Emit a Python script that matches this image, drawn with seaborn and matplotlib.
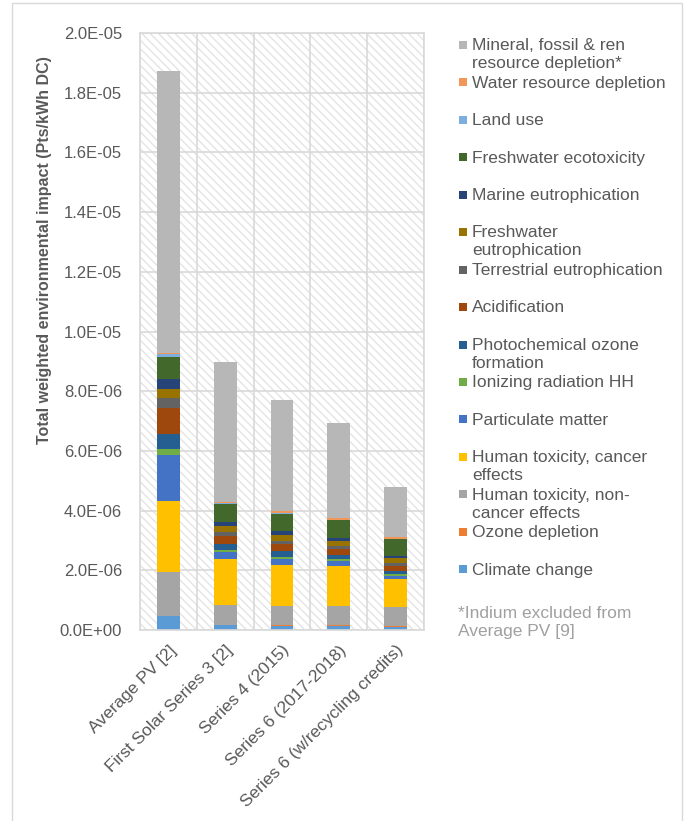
import numpy as np
import pandas as pd
import matplotlib
matplotlib.use("Agg")
import matplotlib.pyplot as plt
import seaborn as sns
from matplotlib.patches import Rectangle
from matplotlib.ticker import FuncFormatter, MultipleLocator, FixedLocator

categories = ["Average PV [2]", "First Solar Series 3 [2]", "Series 4 (2015)",
              "Series 6 (2017-2018)", "Series 6 (w/recycling credits)"]

# values in units of 1E-06 Pts/kWh DC, bottom segment first
climate_change      = [0.47, 0.17, 0.15, 0.15, 0.11]
ozone_depletion     = [0.01, 0.01, 0.01, 0.01, 0.01]
human_tox_noncancer = [1.45, 0.67, 0.66, 0.63, 0.64]
human_tox_cancer    = [2.38, 1.53, 1.37, 1.34, 0.94]
particulate_matter  = [1.55, 0.23, 0.20, 0.18, 0.12]
ionizing_radiation  = [0.20, 0.08, 0.07, 0.08, 0.06]
photochem_ozone     = [0.52, 0.20, 0.17, 0.12, 0.11]
acidification       = [0.85, 0.27, 0.25, 0.19, 0.17]
terrestrial_eutro   = [0.33, 0.12, 0.11, 0.10, 0.08]
freshwater_eutro    = [0.31, 0.22, 0.20, 0.19, 0.16]
marine_eutro        = [0.33, 0.11, 0.11, 0.08, 0.07]
freshwater_ecotox   = [0.76, 0.61, 0.60, 0.60, 0.57]
land_use            = [0.08, 0.02, 0.02, 0.02, 0.02]
water_depletion     = [0.05, 0.05, 0.06, 0.05, 0.05]
mineral_depletion   = [9.43, 4.68, 3.74, 3.18, 1.68]

series_values = [climate_change, ozone_depletion, human_tox_noncancer, human_tox_cancer,
                 particulate_matter, ionizing_radiation, photochem_ozone, acidification,
                 terrestrial_eutro, freshwater_eutro, marine_eutro, freshwater_ecotox,
                 land_use, water_depletion, mineral_depletion]
series_labels = ["Climate change", "Ozone depletion", "Human toxicity, non-\ncancer effects",
                 "Human toxicity, cancer\neffects", "Particulate matter", "Ionizing radiation HH",
                 "Photochemical ozone\nformation", "Acidification", "Terrestrial eutrophication",
                 "Freshwater\neutrophication", "Marine eutrophication", "Freshwater ecotoxicity",
                 "Land use", "Water resource depletion",
                 "Mineral, fossil & ren\nresource depletion*"]
series_colors = ["#5B9BD5", "#ED7D31", "#A5A5A5", "#FFC000", "#4472C4", "#70AD47",
                 "#255E91", "#9E480E", "#636363", "#997300", "#264478", "#43682B",
                 "#7CAFDD", "#F1975A", "#B7B7B7"]
footnote = "*Indium excluded from\nAverage PV [9]"
y_label = "Total weighted environmental impact (Pts/kWh DC)"
scale = 1e-6

sns.set_theme(style="white")
plt.rcParams["font.family"] = ["Liberation Sans", "DejaVu Sans"]
plt.rcParams["hatch.color"] = "#E4E4E4"
plt.rcParams["hatch.linewidth"] = 1.0

W, H = 688, 821
fig = plt.figure(figsize=(W / 100, H / 100), dpi=100)
fig.patch.set_facecolor("white")

def fx(px):
    return px / W

def fy(py):
    return 1 - py / H

ax = fig.add_axes([fx(140), fy(630), fx(424) - fx(140), fy(33) - fy(630)])

# hatched plot-area background
bg = Rectangle((0, 0), 1, 1, transform=ax.transAxes, facecolor="white",
               edgecolor="#E4E4E4", hatch="\\\\\\\\", lw=0, zorder=-2)
ax.add_artist(bg)
ax.patch.set_alpha(0)

vals = np.array(series_values) * scale
cum = np.cumsum(vals, axis=0)
for i in range(len(series_values) - 1, -1, -1):
    df = pd.DataFrame({"cat": categories, "top": cum[i]})
    sns.barplot(data=df, x="cat", y="top", color=series_colors[i], saturation=1,
                width=0.4, linewidth=0, errorbar=None, ax=ax)

ax.set_xlim(-0.5, len(categories) - 0.5)
ax.set_ylim(0, 2.0e-5)
ax.yaxis.set_major_locator(MultipleLocator(2e-6))
ax.yaxis.set_major_formatter(FuncFormatter(lambda v, p: f"{v:.1E}"))
ax.xaxis.set_minor_locator(FixedLocator(np.arange(-0.5, len(categories), 1.0)))
ax.set_axisbelow(True)
ax.grid(axis="y", which="major", color="#D9D9D9", lw=1.2)
ax.grid(axis="x", which="minor", color="#D9D9D9", lw=1.2)
ax.grid(axis="x", which="major", visible=False)
for s in ax.spines.values():
    s.set_color("#D9D9D9")
    s.set_linewidth(1.2)
ax.set_xlabel("")
ax.set_ylabel("")
ax.tick_params(axis="both", which="both", length=0)
ax.tick_params(axis="y", pad=13, colors="#595959")
ax.tick_params(axis="x", pad=9, colors="#595959")
for t in ax.get_yticklabels():
    t.set_fontsize(12)
    t.set_family(["Liberation Sans Narrow", "Liberation Sans", "DejaVu Sans"])
ax.set_xticks(range(len(categories)))
ax.set_xticklabels(categories, rotation=45, ha="right", rotation_mode="anchor",
                   fontsize=12.5, color="#595959")

fig.text(fx(45), fy(250), y_label, rotation=90, ha="center", va="center",
         fontsize=11.5, fontweight="bold", color="#595959")

# legend (top entry = last series)
leg_y0, leg_dy = 45, 37.45
for k, i in enumerate(range(len(series_values) - 1, -1, -1)):
    yc = leg_y0 + k * leg_dy
    fig.add_artist(Rectangle((fx(459), fy(yc + 4)), fx(467) - fx(459), fy(yc - 4) - fy(yc + 4),
                             transform=fig.transFigure, facecolor=series_colors[i], lw=0))
    fig.text(fx(472), fy(yc - 6.8), series_labels[i], ha="left", va="top",
             fontsize=12.5, color="#595959", linespacing=1.25)

fig.text(fx(458), fy(613 - 6.8), footnote, ha="left", va="top", fontsize=12.5,
         color="#A0A0A0", linespacing=1.25)

# outer chart border
fig.add_artist(Rectangle((fx(12), -0.02), fx(682) - fx(12), fy(3) + 0.02,
                         transform=fig.transFigure, fill=False, edgecolor="#D9D9D9", lw=1))

fig.savefig("out.png", dpi=100)
